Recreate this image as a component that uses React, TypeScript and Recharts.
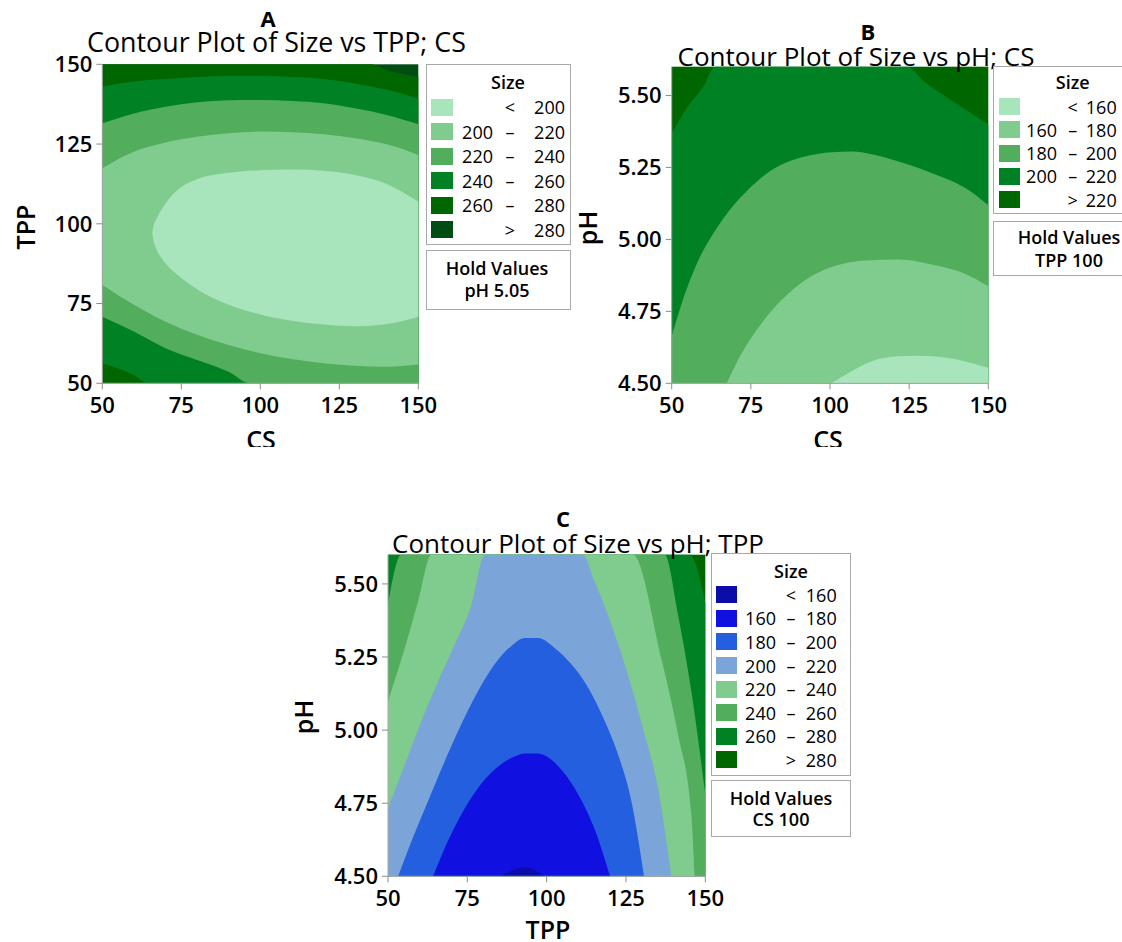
import React from 'react'
import { AreaChart, Area, XAxis, YAxis, CartesianGrid } from 'recharts'

// each point: [x, lower y, upper y] of the zone lying below one contour level
type Band = [number, number, number][]

// ---- A: Size vs TPP (y) and CS (x), pH held at 5.05
const aBelow280: Band = [[50, 50, 150], [135.2, 50, 150], [140, 50, 148.2], [150, 50, 146.1]]
const aBelow260: Band = [[50, 56.3, 143], [60, 52.6, 144.6], [64.6, 50, 145.1], [70, 50, 145.4], [80, 50, 146], [90, 50, 146.3], [100, 50, 146.3], [110, 50, 146], [120, 50, 145.4], [130, 50, 144], [140, 50, 142], [150, 50, 139.3]]
const aBelow240: Band = [[50, 70.9, 131.5], [60, 66.2, 134.6], [70, 61, 136.7], [80, 57.3, 138.1], [90, 53.6, 138.7], [96.8, 50, 138.8], [100, 50, 138.8], [110, 50, 138.5], [120, 50, 137.8], [130, 50, 136.2], [140, 50, 134.1], [150, 50, 131.2]]
const aBelow220: Band = [[50, 80.8, 117.4], [60, 74.6, 122.6], [70, 69.3, 125.5], [80, 65.2, 127.3], [90, 62, 128.4], [100, 59.4, 128.9], [110, 57.6, 128.7], [120, 56.3, 128.1], [130, 55.5, 126.8], [140, 55.2, 124.9], [150, 55.9, 121.6]]
const aBelow200: Band = [[65.8, 97, 97], [66.3, 94.4, 99.6], [67.2, 91.8, 101.7], [68.8, 89.2, 104.6], [70, 87.6, 106.4], [75, 83, 111.5], [80, 79.5, 114], [90, 74.6, 116], [100, 71.6, 116.8], [110, 69.6, 117], [120, 68.4, 116.6], [130, 67.9, 115.3], [140, 68.6, 112.5], [150, 70.9, 107]]

// ---- B: Size vs pH (y) and CS (x), TPP held at 100
const bBelow220: Band = [[50, 4.5, 5.368], [55, 4.5, 5.46], [60, 4.5, 5.53], [63.7, 4.5, 5.6], [124.2, 4.5, 5.6], [130, 4.5, 5.546], [140, 4.5, 5.471], [150, 4.5, 5.399]]
const bBelow200: Band = [[50, 4.5, 4.663], [54.2, 4.5, 4.812], [58.4, 4.5, 4.927], [63.7, 4.5, 5.03], [68.9, 4.5, 5.11], [74.2, 4.5, 5.173], [79.5, 4.5, 5.225], [85.8, 4.5, 5.265], [92.1, 4.5, 5.288], [100.5, 4.5, 5.303], [106.8, 4.5, 5.305], [113.2, 4.5, 5.296], [121.6, 4.5, 5.271], [132.1, 4.5, 5.231], [142.6, 4.5, 5.179], [150, 4.5, 5.119]]
const bBelow180: Band = [[67.4, 4.5, 4.5], [72.1, 4.5, 4.604], [78.4, 4.5, 4.709], [84.7, 4.5, 4.789], [92.1, 4.5, 4.858], [100.5, 4.5, 4.904], [111.1, 4.5, 4.927], [121.6, 4.5, 4.93], [132.1, 4.5, 4.913], [142.6, 4.5, 4.881], [150, 4.5, 4.837]]
const bBelow160: Band = [[100.5, 4.5, 4.5], [106.8, 4.5, 4.542], [113.2, 4.5, 4.577], [121.6, 4.5, 4.594], [127.9, 4.5, 4.596], [137.4, 4.5, 4.588], [150, 4.5, 4.554]]

// ---- C: Size vs pH (y) and TPP (x), CS held at 100
const cBelow280: Band = [[50, 4.5, 5.6], [145.1, 4.5, 5.6], [150, 4.5, 5.435]]
const cBelow260: Band = [[50, 4.5, 5.429], [54.2, 4.5, 5.6], [137.2, 4.5, 5.6], [141.4, 4.5, 5.395], [145.6, 4.5, 5.133], [150, 4.5, 4.779]]
const cBelow240: Band = [[50, 4.5, 5.099], [55.3, 4.5, 5.281], [59.5, 4.5, 5.441], [63.7, 4.5, 5.6], [127.2, 4.5, 5.6], [136.1, 4.5, 5.247], [141.4, 4.5, 4.985], [145.6, 4.5, 4.711], [146.6, 4.5, 4.5]]
const cBelow220: Band = [[50, 4.5, 4.734], [55.3, 4.5, 4.882], [60.5, 4.5, 5.03], [65.8, 4.5, 5.167], [71, 4.5, 5.292], [76.3, 4.5, 5.429], [80.5, 4.5, 5.6], [111.4, 4.5, 5.6], [115.1, 4.5, 5.509], [120.4, 4.5, 5.361], [125.6, 4.5, 5.19], [130.9, 4.5, 4.985], [135.1, 4.5, 4.802], [139.3, 4.5, 4.5]]
const cBelow200: Band = [[53.2, 4.5, 4.5], [57.4, 4.5, 4.62], [62.6, 4.5, 4.757], [67.9, 4.5, 4.894], [73.1, 4.5, 5.02], [78.4, 4.5, 5.134], [83.6, 4.5, 5.225], [88.9, 4.5, 5.288], [93.1, 4.5, 5.315], [97.3, 4.5, 5.315], [102.5, 4.5, 5.281], [107.8, 4.5, 5.225], [113.1, 4.5, 5.145], [118.3, 4.5, 5.031], [122.5, 4.5, 4.917], [126.7, 4.5, 4.757], [130.7, 4.5, 4.5]]
const cBelow180: Band = [[64.2, 4.5, 4.5], [67.9, 4.5, 4.597], [73.1, 4.5, 4.711], [78.4, 4.5, 4.802], [83.6, 4.5, 4.865], [89.9, 4.5, 4.91], [93, 4.5, 4.92], [97, 4.5, 4.92], [100, 4.5, 4.91], [105, 4.5, 4.86], [110, 4.5, 4.779], [115, 4.5, 4.665], [120, 4.5, 4.5]]
const cBelow160: Band = [[85.2, 4.5, 4.5], [90, 4.5, 4.523], [92.5, 4.5, 4.531], [95, 4.5, 4.527], [99.4, 4.5, 4.5]]

// level cuts shown in the legends
const aCuts = [200, 220, 240, 260, 280]
const bCuts = [160, 180, 200, 220]
const cCuts = [160, 180, 200, 220, 240, 260, 280]

const factorTicks = [50, 75, 100, 125, 150]
const phTicks = [4.5, 4.75, 5, 5.25, 5.5]

// colours, lowest level first
const greens = ['#A8E4BC', '#80CC8E', '#52AE5C', '#008224', '#006600', '#004D14']
const bgreens = ['#A8E4BC', '#80CC8E', '#52AE5C', '#008224', '#006600']
const blueGreens = ['#0C0CA8', '#1010E0', '#245FE0', '#7BA5D8', '#80CC8E', '#52AE5C', '#008224', '#006600']

const FONT = '"Open Sans", "Noto Sans", sans-serif'
const FRAME = '#A8A8A8'

function buildRows(bands: { key: string; data: Band }[]) {
  const xs = Array.from(new Set(bands.flatMap((b) => b.data.map((p) => p[0])))).sort((a, b) => a - b)
  return xs.map((x) => {
    const row: Record<string, unknown> = { x }
    for (const b of bands) {
      const p = b.data.find((q) => q[0] === x)
      row[b.key] = p ? [p[1], p[2]] : null
    }
    return row
  })
}

type Rect = { left: number; top: number; width: number; height: number }

function T({ x, y, size = 18, weight = 400, align = 'center', rotate = 0, children }: {
  x: number; y: number; size?: number; weight?: number; align?: 'center' | 'right'; rotate?: number; children: React.ReactNode
}) {
  const tx = align === 'right' ? '-100%' : '-50%'
  return (
    <div
      style={{
        position: 'absolute', left: x, top: y, fontSize: size, fontWeight: weight, lineHeight: 1,
        whiteSpace: 'nowrap', transform: `translate(${tx}, -50%) rotate(${rotate}deg)`, color: '#000',
      }}
    >
      {children}
    </div>
  )
}

function Panel({ box, plot, yDomain, yTicks, yFmt, bands, background, children }: {
  box: Rect
  plot: { left: number; top: number; right: number; bottom: number }
  yDomain: [number, number]
  yTicks: number[]
  yFmt: (v: number) => string
  bands: { key: string; data: Band; color: string }[]
  background: string
  children?: React.ReactNode
}) {
  const yW = 70
  const xH = 30
  const rows = buildRows(bands)
  const tick = { fill: '#000', fontSize: 22, fontWeight: 600 }
  return (
    <div style={{ position: 'absolute', left: box.left, top: box.top, width: box.width, height: box.height, overflow: 'hidden' }}>
      <AreaChart
        width={box.width}
        height={box.height}
        data={rows}
        margin={{
          top: plot.top - box.top,
          left: plot.left - box.left - yW,
          right: box.left + box.width - plot.right,
          bottom: box.top + box.height - plot.bottom - xH,
        }}
      >
        <CartesianGrid fill={background} fillOpacity={1} horizontal={false} vertical={false} />
        <XAxis
          type="number"
          dataKey="x"
          domain={[50, 150]}
          ticks={factorTicks}
          interval={0}
          height={xH}
          tickSize={6}
          tickMargin={8}
          tick={tick}
          tickLine={{ stroke: '#8C8C8C' }}
          axisLine={{ stroke: FRAME }}
        />
        <YAxis
          type="number"
          domain={yDomain}
          ticks={yTicks}
          interval={0}
          width={yW}
          tickSize={6}
          tickMargin={4}
          tickFormatter={yFmt}
          tick={tick}
          tickLine={{ stroke: '#8C8C8C' }}
          axisLine={{ stroke: FRAME }}
        />
        <XAxis xAxisId="top" orientation="top" type="number" domain={[50, 150]} height={0} tick={false} tickLine={false} axisLine={{ stroke: FRAME }} />
        <YAxis yAxisId="right" orientation="right" type="number" domain={yDomain} width={0} tick={false} tickLine={false} axisLine={{ stroke: FRAME }} />
        {bands.map((b) => (
          <Area
            key={b.key}
            dataKey={b.key}
            type="monotone"
            fill={b.color}
            fillOpacity={1}
            stroke="none"
            connectNulls
            dot={false}
            activeDot={false}
            isAnimationActive={false}
          />
        ))}
      </AreaChart>
      {children}
    </div>
  )
}

function Legend({ box, titleX, titleY, rowY, step, swX, swW, lowR, sepX, highR, cuts, colors }: {
  box: Rect; titleX: number; titleY: number; rowY: number; step: number; swX: number; swW: number
  lowR: number; sepX: number; highR: number; cuts: number[]; colors: string[]
}) {
  const rows = [
    { lo: '', sep: '<', hi: String(cuts[0]) },
    ...cuts.slice(1).map((c, i) => ({ lo: String(cuts[i]), sep: '–', hi: String(c) })),
    { lo: '', sep: '>', hi: String(cuts[cuts.length - 1]) },
  ]
  return (
    <>
      <div style={{ position: 'absolute', left: box.left, top: box.top, width: box.width, height: box.height, border: `1px solid ${FRAME}`, boxSizing: 'border-box', background: '#fff' }} />
      <T x={titleX} y={titleY} size={18} weight={600}>Size</T>
      {rows.map((r, i) => {
        const y = rowY + i * step
        return (
          <React.Fragment key={i}>
            <div style={{ position: 'absolute', left: swX, top: y - 8.5, width: swW, height: 17, background: colors[i] }} />
            {r.lo && <T x={lowR} y={y} align="right">{r.lo}</T>}
            <T x={sepX} y={y}>{r.sep}</T>
            <T x={highR} y={y} align="right">{r.hi}</T>
          </React.Fragment>
        )
      })}
    </>
  )
}

function Hold({ box, cx, y1, y2, line }: { box: Rect; cx: number; y1: number; y2: number; line: string }) {
  return (
    <>
      <div style={{ position: 'absolute', left: box.left, top: box.top, width: box.width, height: box.height, border: `1px solid ${FRAME}`, boxSizing: 'border-box', background: '#fff' }} />
      <T x={cx} y={y1} size={18} weight={600}>Hold Values</T>
      <T x={cx} y={y2} size={18} weight={600}>{line}</T>
    </>
  )
}

const intFmt = (v: number) => String(v)
const phFmt = (v: number) => v.toFixed(2)

export default function App() {
  return (
    <div style={{ position: 'absolute', left: 0, top: 0, width: 1122, height: 942, overflow: 'hidden', background: '#fff', fontFamily: FONT }}>
      {/* A */}
      <Panel
        box={{ left: 0, top: 40, width: 450, height: 407 }}
        plot={{ left: 102.3, top: 64.3, right: 418.3, bottom: 383.3 }}
        yDomain={[50, 150]}
        yTicks={factorTicks}
        yFmt={intFmt}
        background={greens[5]}
        bands={[
          { key: 'b280', data: aBelow280, color: greens[4] },
          { key: 'b260', data: aBelow260, color: greens[3] },
          { key: 'b240', data: aBelow240, color: greens[2] },
          { key: 'b220', data: aBelow220, color: greens[1] },
          { key: 'b200', data: aBelow200, color: greens[0] },
        ]}
      >
        <T x={25} y={227 - 40} size={25} weight={600} rotate={-90}>TPP</T>
        <T x={261} y={439 - 40} size={25} weight={600}>CS</T>
      </Panel>
      <T x={268} y={17.5} size={22} weight={700}>A</T>
      <T x={276.5} y={42} size={26.8}>Contour Plot of Size vs TPP; CS</T>
      <Legend
        box={{ left: 426, top: 64, width: 145, height: 181 }}
        titleX={508} titleY={81.7} rowY={107} step={24.5} swX={431} swW={22}
        lowR={493} sepX={510} highR={565} cuts={aCuts} colors={greens}
      />
      <Hold box={{ left: 426, top: 250, width: 145, height: 60 }} cx={497} y1={268} y2={290} line="pH  5.05" />

      {/* B */}
      <Panel
        box={{ left: 560, top: 60, width: 460, height: 387 }}
        plot={{ left: 671.7, top: 66.7, right: 988.3, bottom: 383.3 }}
        yDomain={[4.5, 5.6]}
        yTicks={phTicks}
        yFmt={phFmt}
        background={bgreens[4]}
        bands={[
          { key: 'b220', data: bBelow220, color: bgreens[3] },
          { key: 'b200', data: bBelow200, color: bgreens[2] },
          { key: 'b180', data: bBelow180, color: bgreens[1] },
          { key: 'b160', data: bBelow160, color: bgreens[0] },
        ]}
      >
        <T x={587 - 560} y={228 - 60} size={25} weight={600} rotate={-90}>pH</T>
        <T x={828 - 560} y={439 - 60} size={25} weight={600}>CS</T>
      </Panel>
      <T x={868} y={31} size={22} weight={700}>B</T>
      <T x={856} y={56} size={26}>Contour Plot of Size vs pH; CS</T>
      <Legend
        box={{ left: 993, top: 66, width: 150, height: 148 }}
        titleX={1072.7} titleY={81.7} rowY={106.7} step={23.2} swX={999} swW={21}
        lowR={1057} sepX={1072.7} highR={1116.7} cuts={bCuts} colors={bgreens}
      />
      <Hold box={{ left: 993, top: 220.5, width: 150, height: 55.5 }} cx={1069} y1={236.7} y2={260} line="TPP  100" />

      {/* C */}
      <Panel
        box={{ left: 280, top: 548, width: 460, height: 394 }}
        plot={{ left: 388, top: 554.7, right: 705.3, bottom: 876.3 }}
        yDomain={[4.5, 5.6]}
        yTicks={phTicks}
        yFmt={phFmt}
        background={blueGreens[7]}
        bands={[
          { key: 'b280', data: cBelow280, color: blueGreens[6] },
          { key: 'b260', data: cBelow260, color: blueGreens[5] },
          { key: 'b240', data: cBelow240, color: blueGreens[4] },
          { key: 'b220', data: cBelow220, color: blueGreens[3] },
          { key: 'b200', data: cBelow200, color: blueGreens[2] },
          { key: 'b180', data: cBelow180, color: blueGreens[1] },
          { key: 'b160', data: cBelow160, color: blueGreens[0] },
        ]}
      >
        <T x={303 - 280} y={717 - 548} size={25} weight={600} rotate={-90}>pH</T>
        <T x={548 - 280} y={929 - 548} size={25} weight={600}>TPP</T>
      </Panel>
      <T x={563} y={518} size={22} weight={700}>C</T>
      <T x={578} y={543} size={26}>Contour Plot of Size vs pH; TPP</T>
      <Legend
        box={{ left: 711, top: 553, width: 140, height: 223 }}
        titleX={791} titleY={570.7} rowY={594.7} step={23.6} swX={716} swW={21}
        lowR={776} sepX={791} highR={836.7} cuts={cCuts} colors={blueGreens}
      />
      <Hold box={{ left: 711, top: 780, width: 140, height: 57 }} cx={781} y1={798} y2={819.3} line="CS 100" />
    </div>
  )
}
